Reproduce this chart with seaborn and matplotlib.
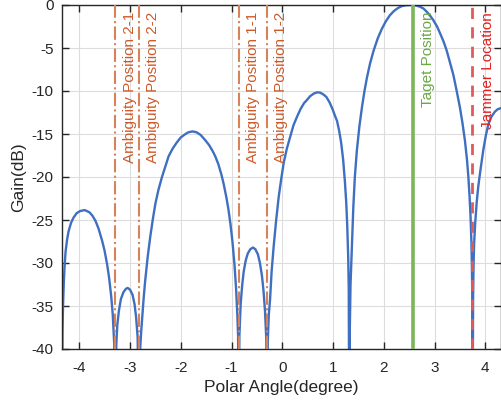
import matplotlib
matplotlib.use("Agg")
import matplotlib.pyplot as plt
import seaborn as sns
import pandas as pd

# ---- data (angle in degrees, gain in dB) ----
angle_deg = [
    -4.34, -4.33, -4.32, -4.305, -4.29, -4.27, -4.24, -4.21, -4.16, -4.11,
    -4.05, -3.98, -3.89, -3.80, -3.74, -3.68, -3.62, -3.55, -3.50, -3.45,
    -3.41, -3.37, -3.34, -3.31, -3.29,
    -3.27, -3.25, -3.22, -3.18, -3.13, -3.08, -3.045, -3.00, -2.95, -2.91,
    -2.88, -2.85, -2.82,
    -2.80, -2.78, -2.76, -2.73, -2.70, -2.65, -2.60, -2.55, -2.50, -2.44,
    -2.37, -2.30, -2.24, -2.16, -2.08, -2.00, -1.92, -1.85, -1.77, -1.69,
    -1.61, -1.52, -1.44, -1.37, -1.32, -1.26, -1.20, -1.155, -1.10, -1.06,
    -1.02, -0.98, -0.94, -0.91, -0.886, -0.87, -0.86,
    -0.845, -0.82, -0.79, -0.76, -0.72, -0.68, -0.63, -0.577, -0.53, -0.48,
    -0.44, -0.40, -0.37, -0.34, -0.315, -0.30,
    -0.285, -0.265, -0.24, -0.21, -0.17, -0.12, -0.07, -0.02, 0.03, 0.09,
    0.157, 0.22, 0.29, 0.36, 0.43, 0.486, 0.55, 0.62, 0.69, 0.75,
    0.81, 0.87, 0.93, 0.99, 1.04, 1.08, 1.12, 1.16, 1.20, 1.235,
    1.26, 1.28, 1.30, 1.31, 1.32,
    1.33, 1.345, 1.37, 1.40, 1.43, 1.47, 1.52, 1.57, 1.62, 1.67,
    1.73, 1.80, 1.88, 1.96, 2.04, 2.12, 2.20, 2.28, 2.36, 2.45,
    2.555, 2.65, 2.72, 2.78, 2.85, 2.92, 2.98, 3.05, 3.11, 3.175,
    3.24, 3.30, 3.37, 3.43, 3.50, 3.55, 3.60, 3.64, 3.667, 3.69,
    3.71, 3.725, 3.735, 3.745, 3.75,
    3.76, 3.77, 3.78, 3.80, 3.83, 3.86, 3.90, 3.96, 4.01, 4.06,
    4.12, 4.19, 4.25, 4.31,
]
gain_db = [
    -50, -38.0, -35.0, -32.4, -30.5, -28.7, -27.3, -26.3, -25.3, -24.7,
    -24.2, -23.95, -23.85, -24.1, -24.5, -25.1, -26.0, -27.4, -28.6, -30.2,
    -31.8, -33.9, -36.0, -39.5, -50,
    -39.5, -37.2, -35.6, -34.2, -33.4, -33.0, -32.9, -33.1, -33.7, -34.8,
    -36.3, -38.6, -50,
    -40.0, -38.0, -36.4, -34.0, -32.0, -29.2, -26.9, -24.9, -23.1, -21.5,
    -20.0, -18.7, -17.6, -16.7, -16.0, -15.4, -15.05, -14.8, -14.7, -14.8,
    -15.1, -15.7, -16.3, -17.0, -17.6, -18.5, -19.7, -20.8, -22.4, -23.8,
    -25.5, -27.6, -30.3, -33.0, -35.9, -38.5, -50,
    -38.5, -34.8, -32.6, -31.0, -29.7, -28.9, -28.4, -28.2, -28.4, -29.0,
    -30.0, -31.5, -33.2, -35.6, -38.8, -50,
    -39.0, -36.0, -34.2, -31.0, -28.1, -25.0, -22.3, -20.2, -18.3, -16.7,
    -15.3, -14.0, -13.0, -12.1, -11.4, -11.05, -10.6, -10.3, -10.15, -10.2,
    -10.4, -10.7, -11.3, -12.1, -12.9, -13.5, -14.6, -16.0, -18.0, -20.6,
    -22.9, -25.6, -29.5, -33.0, -50,
    -38.0, -32.5, -28.5, -23.5, -20.0, -16.9, -14.1, -11.9, -10.0, -8.4,
    -6.8, -5.3, -3.9, -2.8, -1.9, -1.2, -0.7, -0.35, -0.12, -0.02,
    0.0, -0.08, -0.22, -0.4, -0.8, -1.3, -1.8, -2.5, -3.3, -4.2,
    -5.3, -6.6, -8.1, -9.8, -11.9, -13.7, -15.8, -18.0, -20.0, -22.2,
    -24.6, -27.2, -30.0, -34.0, -50,
    -34.0, -30.0, -27.8, -25.5, -23.0, -21.2, -19.4, -16.9, -15.2, -13.9,
    -13.0, -12.4, -12.1, -12.0,
]

ambiguity_pos = [-3.29, -2.82, -0.86, -0.30]
ambiguity_labels = ["Ambiguity Position 2-1", "Ambiguity Position 2-2",
                    "Ambiguity Position 1-1", "Ambiguity Position 1-2"]
target_pos = 2.585
target_label = "Taget Position"
jammer_pos = 3.745
jammer_label = "Jammer Location"

x_ticks = [-4, -3, -2, -1, 0, 1, 2, 3, 4]
y_ticks = [0, -5, -10, -15, -20, -25, -30, -35, -40]

# ---- style ----
sns.set_theme(style="ticks")
plt.rcParams["font.family"] = ["Liberation Sans", "DejaVu Sans"]
plt.rcParams["axes.unicode_minus"] = False

fig = plt.figure(figsize=(5.01, 4.08), dpi=100)
ax = fig.add_axes([62 / 501, 1 - 349 / 408, (500.5 - 62) / 501, (349 - 5) / 408])

df = pd.DataFrame({"angle": angle_deg, "gain": gain_db})
sns.lineplot(data=df, x="angle", y="gain", ax=ax, color="#3F6FC0",
             linewidth=1.7, sort=False, estimator=None)

amb_line_c = "#D98259"
amb_text_c = "#CF5A28"
text_y = -0.8
dx = 0.28
for pos, lab in zip(ambiguity_pos, ambiguity_labels):
    ax.axvline(pos, color=amb_line_c, linestyle="-.", linewidth=1.5, zorder=3)
    ax.text(pos + dx, text_y, lab, rotation=90, ha="center", va="top",
            color=amb_text_c, fontsize=11, zorder=4)

ax.axvline(target_pos, color="#7CB55A", linestyle="-", linewidth=2.6, zorder=3)
ax.text(target_pos + dx, text_y, target_label, rotation=90, ha="center", va="top",
        color="#6BA844", fontsize=11, zorder=4)

ax.axvline(jammer_pos, color="#E05A5A", linestyle=(0, (4, 3)), linewidth=2.0, zorder=3)
ax.text(jammer_pos + 0.31, text_y, jammer_label, rotation=90, ha="center", va="top",
        color="#E21E1E", fontsize=11, zorder=4, clip_on=True)

ax.set_xlim(-4.34, 4.30)
ax.set_ylim(-40, 0)
ax.set_xticks(x_ticks)
ax.set_yticks(y_ticks)
ax.set_xticklabels([str(t) for t in x_ticks])
ax.set_yticklabels([str(t) for t in y_ticks])
ax.grid(True, color="#DDDDDD", linewidth=0.8)
ax.set_axisbelow(True)
ax.tick_params(direction="in", length=5, width=1, top=True, right=True,
               labelsize=11, colors="#262626")
ax.tick_params(axis="x", pad=9)
ax.tick_params(axis="y", pad=6)
for s in ax.spines.values():
    s.set_visible(True)
    s.set_color("#262626")
    s.set_linewidth(1.0)
ax.set_xlabel("Polar Angle(degree)", fontsize=12.5, color="#262626", labelpad=3)
ax.set_ylabel("Gain(dB)", fontsize=12.5, color="#262626", labelpad=4)

fig.savefig("out.png", dpi=100)
